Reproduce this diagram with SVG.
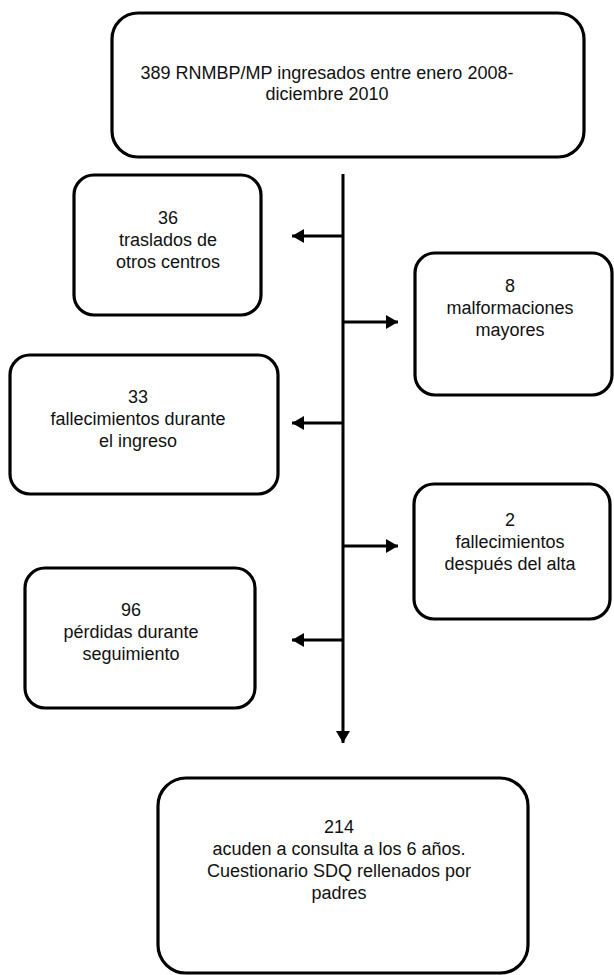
<svg xmlns="http://www.w3.org/2000/svg" width="614" height="975" viewBox="0 0 614 975">
<defs>
<style>
.box{fill:#fff;stroke:#000;stroke-width:3.2}
.t{font-family:"Liberation Sans",Arial,sans-serif;font-size:18px;fill:#111;text-anchor:middle}
.ln{stroke:#000;stroke-width:3;fill:none}
</style>
<marker id="ah" viewBox="0 0 12 14" refX="12" refY="7" markerWidth="12" markerHeight="14" markerUnits="userSpaceOnUse" orient="auto">
<path d="M0,0 L12,7 L0,14 Z" fill="#000"/>
</marker>
</defs>
<rect width="614" height="975" fill="#fff"/>
<g id="connectors">
<line class="ln" x1="343" y1="174" x2="343" y2="743" marker-end="url(#ah)"/>
<line class="ln" x1="343" y1="236" x2="292" y2="236" marker-end="url(#ah)"/>
<line class="ln" x1="343" y1="322" x2="398" y2="322" marker-end="url(#ah)"/>
<line class="ln" x1="343" y1="423" x2="292" y2="423" marker-end="url(#ah)"/>
<line class="ln" x1="343" y1="546" x2="398" y2="546" marker-end="url(#ah)"/>
<line class="ln" x1="343" y1="640" x2="292" y2="640" marker-end="url(#ah)"/>
</g>
<g id="n-start">
<rect class="box" x="112" y="13" width="472" height="144" rx="26"/>
<text class="t" x="327" y="79">389 RNMBP/MP ingresados entre enero 2008-</text>
<text class="t" x="327" y="100">diciembre 2010</text>
</g>
<g id="n-36">
<rect class="box" x="74" y="175" width="187" height="140" rx="20"/>
<text class="t" x="168" y="224">36</text>
<text class="t" x="168" y="246">traslados de</text>
<text class="t" x="168" y="268">otros centros</text>
</g>
<g id="n-8">
<rect class="box" x="415" y="253" width="197" height="142" rx="20"/>
<text class="t" x="510" y="292">8</text>
<text class="t" x="510" y="314">malformaciones</text>
<text class="t" x="510" y="336">mayores</text>
</g>
<g id="n-33">
<rect class="box" x="10" y="355" width="268" height="139" rx="20"/>
<text class="t" x="138" y="403">33</text>
<text class="t" x="138" y="425">fallecimientos durante</text>
<text class="t" x="138" y="447">el ingreso</text>
</g>
<g id="n-2">
<rect class="box" x="414" y="484" width="196" height="135" rx="20"/>
<text class="t" x="510" y="526">2</text>
<text class="t" x="510" y="548">fallecimientos</text>
<text class="t" x="510" y="570">después del alta</text>
</g>
<g id="n-96">
<rect class="box" x="25" y="568" width="230" height="140" rx="20"/>
<text class="t" x="131" y="616">96</text>
<text class="t" x="131" y="638">pérdidas durante</text>
<text class="t" x="131" y="660">seguimiento</text>
</g>
<g id="n-214">
<rect class="box" x="158" y="778" width="370" height="195" rx="28"/>
<text class="t" x="339" y="833">214</text>
<text class="t" x="339" y="855">acuden a consulta a los 6 años.</text>
<text class="t" x="339" y="877">Cuestionario SDQ rellenados por</text>
<text class="t" x="339" y="899">padres</text>
</g>
</svg>
